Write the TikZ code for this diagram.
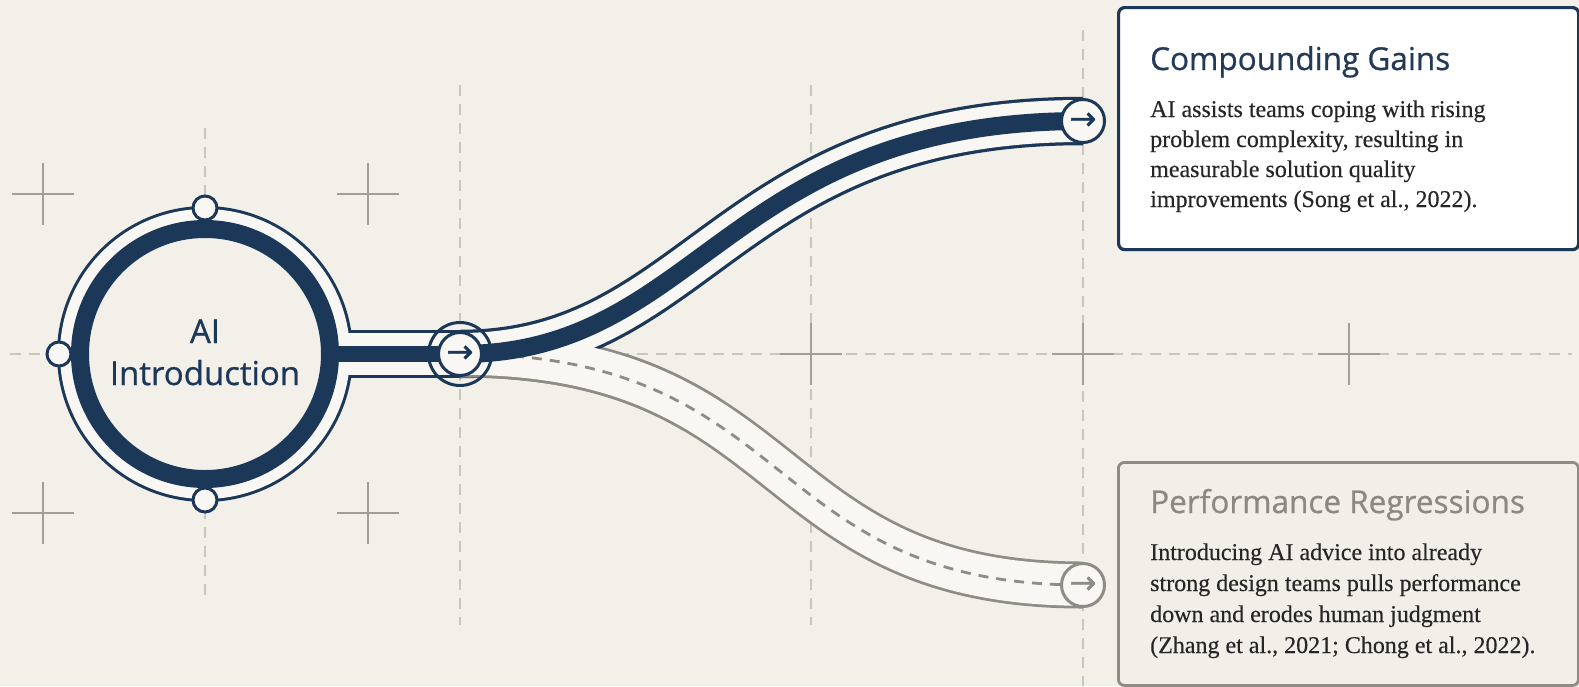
\documentclass[tikz,border=0pt]{standalone}
\usepackage{fontspec}
\setmainfont{Liberation Serif}
\newfontfamily\bodyfont[FakeBold=0.35]{Liberation Serif}
\newfontfamily\titlefont[FakeBold=0.7]{Open Sans}
\newfontfamily\symfont[FakeBold=1.2]{DejaVu Sans}
\definecolor{bgc}{HTML}{F3F0EA}
\definecolor{navy}{HTML}{1B3859}
\definecolor{navytitle}{HTML}{223A58}
\definecolor{tubefill}{HTML}{F9F7F3}
\definecolor{grayc}{HTML}{8F8B85}
\definecolor{gridc}{HTML}{CAC6BF}
\definecolor{crossc}{HTML}{A29E97}
\definecolor{bodyc}{HTML}{262626}
\definecolor{graytitle}{HTML}{8C8882}
\definecolor{boxfill}{HTML}{F2EFE9}
\tikzset{
  gridline/.style={draw=gridc, line width=1.3pt, dash pattern=on 11pt off 8pt},
  crossline/.style={draw=crossc, line width=1.4pt},
  smallc/.style={circle, draw=navy, fill=tubefill, line width=3pt, minimum size=24pt, inner sep=0pt},
  endc/.style={circle, draw=#1, fill=tubefill, line width=3pt, minimum size=43pt, inner sep=0pt,
     text=#1, font=\symfont\fontsize{32}{32}\selectfont},
  titletext/.style={anchor=base west, inner sep=0pt, font=\titlefont\fontsize{31.5}{36}\selectfont},
  bodytext/.style={anchor=base west, inner sep=0pt, text=bodyc},
}
\begin{document}
\begin{tikzpicture}[x=1pt,y=-1pt]
\fill[bgc] (0,0) rectangle (1579,686);
\useasboundingbox (0,0) rectangle (1579,686);
% grid
\draw[gridline] (205,128) -- (205,600);
\draw[gridline] (460,85) -- (460,625);
\draw[gridline] (811,85) -- (811,625);
\draw[gridline] (1083,30) -- (1083,686);
\draw[gridline] (10,354) -- (1572,354);
\foreach \p in {(43,194),(368,194),(43,513),(368,513),(811,354),(1083,354),(1349,354)}
  \draw[crossline] \p ++(-31,0) -- ++(62,0) \p ++(0,-31) -- ++(0,62);
% key points
\coordinate (C) at (205,354);
\coordinate (J) at (460,354);
\coordinate (P0) at (300,354);
\coordinate (K0) at (330,354);
\coordinate (TE) at (1083,121);
\coordinate (BE) at (1083,585);
\def\toppath{(J) .. controls (700,354) and (725,121) .. (TE)}
\def\botpath{(J) .. controls (800,354) and (760,585) .. (BE)}
% outer walls
\fill[navy] (C) circle[radius=148];
\draw[navy, line width=48.5pt] (P0) -- (J);
\draw[grayc, line width=47pt] \botpath;
\draw[navy, line width=48.5pt] \toppath;
\begin{scope}
  \clip (460,354) rectangle (720,430);
  \draw[grayc, line width=47pt] \botpath;
\end{scope}
% inner fills
\fill[tubefill] (C) circle[radius=145];
\draw[tubefill, line width=42pt] (P0) -- (J);
\draw[tubefill, line width=41.5pt] \botpath;
\draw[tubefill, line width=42pt] \toppath;
% main ring
\fill[bgc] (C) circle[radius=125];
\draw[navy, line width=18pt] (C) circle[radius=125];
% cores
\draw[navy, line width=15.5pt] (K0) -- (J);
\draw[grayc, line width=2.8pt, dash pattern=on 10pt off 8pt] \botpath;
\draw[navy, line width=18pt] \toppath;
% small circles on the ring
\node[smallc] (st) at (205,208) {};
\node[smallc] (sb) at (205,500) {};
\node[smallc] (sl) at (59,354) {};
% label
\node[anchor=base, inner sep=0pt, text=navy] (intro) at (205,343)
  {\parbox[t]{260pt}{\centering\titlefont\fontsize{33}{42}\selectfont AI\\Introduction}};
% junction
\node[circle, draw=navy, line width=3pt, minimum size=63pt, inner sep=0pt] (jo) at (J) {};
\node[endc=navy] (ji) at (J) {→};
% ends
\node[endc=navy] (te) at (TE) {→};
\node[endc=grayc] (be) at (BE) {→};
% boxes
\fill[black, opacity=0.22, rounded corners=6pt] (1119,10) rectangle (1579,251);
\node[draw=navy, line width=3.2pt, fill=white, rounded corners=6pt, minimum width=460pt,
  minimum height=242pt, anchor=north west, inner sep=0pt] (tb) at (1117,6) {};
\fill[black, opacity=0.10, rounded corners=6pt] (1119,464) rectangle (1579,688);
\node[draw=grayc, line width=2.8pt, fill=boxfill, rounded corners=6pt, minimum width=460pt,
  minimum height=223pt, anchor=north west, inner sep=0pt] (bb) at (1117,461) {};
\node[titletext, text=navytitle] (tt) at (1150,70) {Compounding Gains};
\node[bodytext] (tbody) at (1150,117) {\parbox[t]{425pt}{\bodyfont\fontsize{24}{30}\selectfont\raggedright
  AI assists teams coping with rising\\
  problem complexity, resulting in\\
  measurable solution quality\\
  improvements (Song et al., 2022).}};
\node[titletext, text=graytitle] (bt) at (1150,513) {Performance Regressions};
\node[bodytext] (bbody) at (1150,560) {\parbox[t]{425pt}{\bodyfont\fontsize{24}{31}\selectfont\raggedright
  Introducing AI advice into already\\
  strong design teams pulls performance\\
  down and erodes human judgment\\
  (Zhang et al., 2021; Chong et al., 2022).}};
\end{tikzpicture}
\end{document}
